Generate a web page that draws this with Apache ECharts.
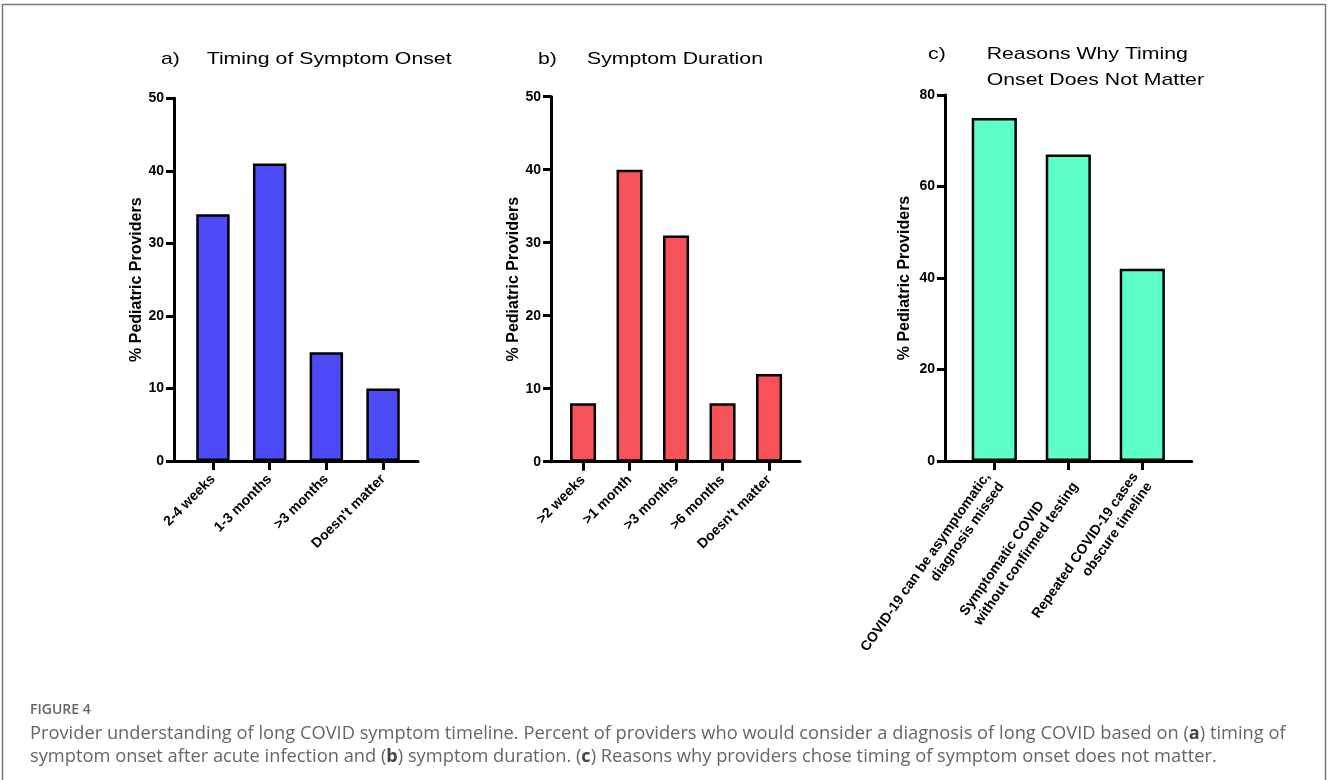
<!DOCTYPE html>
<html>
<head>
<meta charset="utf-8">
<script src="https://cdn.jsdelivr.net/npm/echarts@6/dist/echarts.min.js"></script>
<style>
  html, body { margin: 0; padding: 0; background: #fff; }
  #chart { width: 1328px; height: 780px; }
</style>
</head>
<body>
<div id="chart"></div>
<script>
// ---------------- DATA ----------------
const catsA = ['2-4 weeks', '1-3 months', '>3 months', "Doesn't matter"];
const valsA = [34, 41, 15, 10];

const catsB = ['>2 weeks', '>1 month', '>3 months', '>6 months', "Doesn't matter"];
const valsB = [8, 40, 31, 8, 12];

const catsC = [
  'COVID-19 can be asymptomatic,\ndiagnosis missed',
  'Symptomatic COVID\nwithout confirmed testing',
  'Repeated COVID-19 cases\nobscure timeline'
];
const valsC = [75, 67, 42];

const yMaxAB = 50, yStepAB = 10;
const yMaxC = 80, yStepC = 20;

const yAxisName = '% Pediatric Providers';
const titleA = ['a)', 'Timing of Symptom Onset'];
const titleB = ['b)', 'Symptom Duration'];
const titleC = ['c)', 'Reasons Why Timing', 'Onset Does Not Matter'];
const figLabel = 'FIGURE 4';
const captionLine1 = 'Provider understanding of long COVID symptom timeline. Percent of providers who would consider a diagnosis of long COVID based on ({b|a}) timing of';
const captionLine2 = 'symptom onset after acute infection and ({b|b}) symptom duration. ({b|c}) Reasons why providers chose timing of symptom onset does not matter.';

// ---------------- STYLE / LAYOUT ----------------
const FF = '"Liberation Sans", Arial, Helvetica, sans-serif';
const CAPF = '"Open Sans", "Noto Sans", sans-serif';
const cLineAlign = ['R', 'L', 'R'];

const panels = [
  { cats: catsA, vals: valsA, max: yMaxAB, step: yStepAB, color: '#4D4BF7',
    frame: { left: 174, width: 244, top: 98.3, height: 362.7 },
    bars:  { left: 184.6, width: 226.8 },
    barWidth: '59%', nameGap: 25, rotate: 45, margin: 16 },
  { cats: catsB, vals: valsB, max: yMaxAB, step: yStepAB, color: '#F7525A',
    frame: { left: 551, width: 249, top: 96.7, height: 365 },
    bars:  { left: 559.8, width: 232.5 },
    barWidth: '56%', nameGap: 29, rotate: 45, margin: 16 },
  { cats: catsC, vals: valsC, max: yMaxC, step: yStepC, color: '#5CFFC8',
    frame: { left: 945, width: 246.7, top: 95, height: 366 },
    bars:  { left: 957.3, width: 222 },
    barWidth: '61%', nameGap: 32, rotate: 55, margin: 18, rich: true }
];

const grid = [], xAxis = [], yAxis = [], series = [];
panels.forEach((p, i) => {
  const gF = 2 * i, gB = 2 * i + 1;
  grid.push({ left: p.frame.left, width: p.frame.width, top: p.frame.top, height: p.frame.height, containLabel: false });
  grid.push({ left: p.bars.left, width: p.bars.width, top: p.frame.top, height: p.frame.height, containLabel: false });

  // frame axes (axis lines, y ticks/labels/name)
  xAxis.push({
    gridIndex: gF, type: 'value', min: 0, max: 1,
    axisLine: { show: true, lineStyle: { color: '#000', width: 3 } },
    axisTick: { show: false }, axisLabel: { show: false }, splitLine: { show: false }
  });
  yAxis.push({
    gridIndex: gF, type: 'value', min: 0, max: p.max, interval: p.step,
    axisLine: { show: true, lineStyle: { color: '#000', width: 3 } },
    axisTick: { show: true, length: 8, lineStyle: { color: '#000', width: 3 } },
    axisLabel: { margin: 10, color: '#000', fontWeight: 'bold', fontSize: 14, fontFamily: FF },
    splitLine: { show: false },
    name: yAxisName, nameLocation: 'middle', nameGap: p.nameGap,
    nameTextStyle: { color: '#000', fontWeight: 'bold', fontSize: 16, fontFamily: FF }
  });

  // bar axes
  const lab = {
    interval: 0, rotate: p.rotate, margin: p.margin, color: '#000',
    fontWeight: 'bold', fontSize: 14, fontFamily: FF
  };
  if (p.rich) {
    lab.lineHeight = 17;
    lab.formatter = (v, idx) => v.split('\n').map(l => '{' + cLineAlign[idx] + '|' + l + '}').join('\n');
    const tok = { fontWeight: 'bold', fontSize: 14, fontFamily: FF, color: '#000', lineHeight: 17 };
    lab.rich = { L: Object.assign({ align: 'left' }, tok), R: Object.assign({ align: 'right' }, tok) };
  }
  xAxis.push({
    gridIndex: gB, type: 'category', data: p.cats,
    axisLine: { show: false },
    axisTick: { show: true, alignWithLabel: true, length: 9, lineStyle: { color: '#000', width: 3 } },
    axisLabel: lab, splitLine: { show: false }
  });
  yAxis.push({ gridIndex: gB, type: 'value', min: 0, max: p.max, show: false, splitLine: { show: false } });

  series.push({
    type: 'bar', xAxisIndex: gB, yAxisIndex: gB, data: p.vals, barWidth: p.barWidth, z: 3,
    itemStyle: { color: p.color, borderColor: '#000', borderWidth: 2.5 },
    silent: true
  });
});

function titleText(txt, x, y) {
  return { type: 'text', x: x, y: y, scaleX: 1.25, silent: true,
    style: { text: txt, font: '17px ' + FF, fill: '#000', align: 'left', verticalAlign: 'middle' } };
}

const capRich = { b: { fontWeight: 'bold', fontSize: 18, fontFamily: CAPF, fill: '#444' } };

const graphic = [
  { type: 'rect', silent: true, shape: { x: 2.5, y: 4.5, width: 1323, height: 800 },
    style: { fill: 'none', stroke: '#7a7a7a', lineWidth: 1.5 } },
  titleText(titleA[0], 161, 59), titleText(titleA[1], 206.7, 59),
  titleText(titleB[0], 538, 59), titleText(titleB[1], 587, 59),
  titleText(titleC[0], 928, 54), titleText(titleC[1], 986.7, 54), titleText(titleC[2], 986.7, 80.7),
  { type: 'text', x: 30, y: 710, silent: true,
    style: { text: figLabel, font: '600 14px ' + CAPF, fill: '#666', verticalAlign: 'middle' } },
  { type: 'text', x: 30, y: 734, silent: true,
    style: { text: captionLine1, fontSize: 18.3, fontFamily: CAPF, fill: '#666', verticalAlign: 'middle', rich: capRich } },
  { type: 'text', x: 30, y: 757, silent: true,
    style: { text: captionLine2, fontSize: 18.3, fontFamily: CAPF, fill: '#666', verticalAlign: 'middle', rich: capRich } }
];

const chart = echarts.init(document.getElementById('chart'), null, { renderer: 'canvas' });
chart.setOption({
  animation: false,
  backgroundColor: '#fff',
  grid, xAxis, yAxis, series, graphic
});
</script>
</body>
</html>
